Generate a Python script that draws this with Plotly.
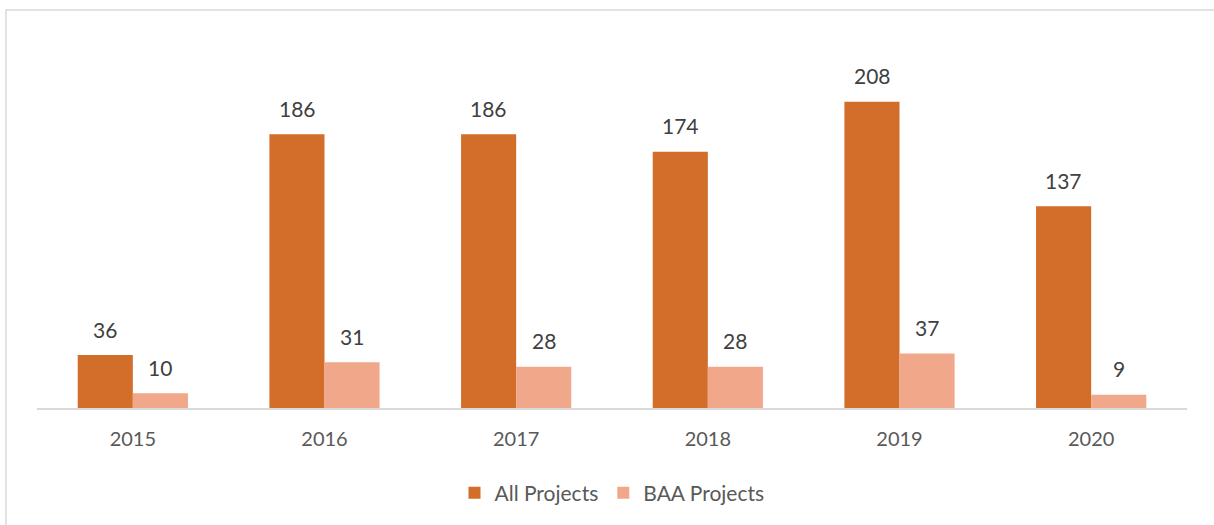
import plotly.graph_objects as go

years = ["2015", "2016", "2017", "2018", "2019", "2020"]
all_projects = [36, 186, 186, 174, 208, 137]
baa_projects = [10, 31, 28, 28, 37, 9]

orange = "#D26D2A"
salmon = "#F0A78A"

fig = go.Figure()
fig.add_trace(go.Bar(x=years, y=all_projects, name="All Projects",
                     marker=dict(color=orange, line=dict(width=0))))
fig.add_trace(go.Bar(x=years, y=baa_projects, name="BAA Projects",
                     marker=dict(color=salmon, line=dict(width=0))))

# value labels above each bar (category index positions, since the
# year strings look numeric to plotly.js)
for vals, shift in [(all_projects, -27.5), (baa_projects, 27.5)]:
    for i, v in enumerate(vals):
        fig.add_annotation(x=i, y=v, text=str(v), xref="x", yref="y",
                           showarrow=False, xshift=shift, yshift=26,
                           font=dict(size=21, color="#404040"))

# chart border (left and top edges visible)
fig.add_shape(type="rect", xref="paper", yref="paper",
              x0=-0.027, x1=1.2, y0=-0.5, y1=1.0813,
              line=dict(color="#D9D9D9", width=1.5), layer="below")

fig.update_layout(
    width=1214, height=525,
    margin=dict(l=37, r=27, t=40, b=116),
    paper_bgcolor="white", plot_bgcolor="white",
    barmode="group", bargap=0.425, bargroupgap=0,
    font=dict(family="Lato, Liberation Sans, sans-serif", color="#595959"),
    showlegend=True,
    legend=dict(orientation="h", x=0.5, xanchor="center", y=-0.228,
                yanchor="middle", font=dict(size=21, color="#595959"),
                itemwidth=30, traceorder="normal"),
    xaxis=dict(type="category", showline=True, linecolor="#D9D9D9", linewidth=1.5,
               ticks="", tickfont=dict(size=20, color="#595959"),
               ticklabelstandoff=12,
               showgrid=False, range=[-0.5, 5.5]),
    yaxis=dict(range=[0, 250], visible=False, showgrid=False),
)

fig.write_html("out.html", config={"displayModeBar": False},
               post_script="document.body.style.margin='0';document.body.style.overflow='hidden';")
